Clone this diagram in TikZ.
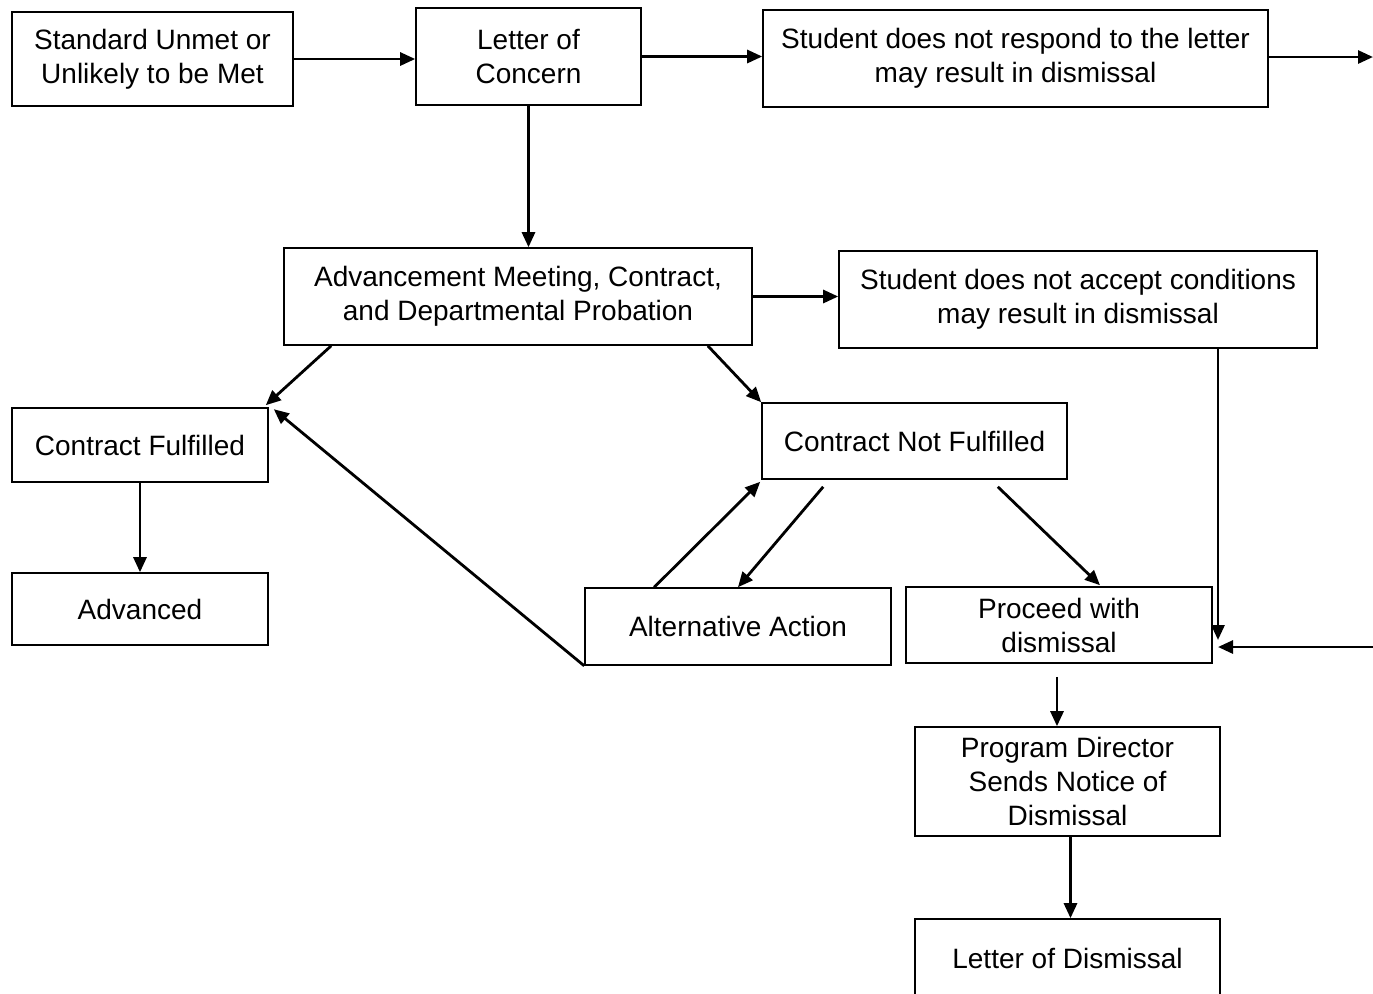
\documentclass[tikz,border=0pt]{standalone}
\usepackage{fontspec}
\setmainfont{Liberation Sans}
\usetikzlibrary{arrows.meta,calc}
\tikzset{
  box/.style={draw,line width=0.8pt,align=center,inner sep=2pt,font=\fontsize{14}{17}\selectfont},
  arr/.style={line width=1.4pt,-{Triangle[length=7.5pt,width=6.5pt]}}
}
\begin{document}
\begin{tikzpicture}[x=0.5pt,y=-0.5pt]
\clip (0,0) rectangle (1373,993);
\fill[white] (0,0) rectangle (1373,993);
% boxes
\node[box,minimum width=140.5pt,minimum height=47pt] (std) at (152.5,59) {Standard Unmet or\\Unlikely to be Met};
\node[box,minimum width=112.5pt,minimum height=48.5pt] (loc) at (528.5,56.5) {Letter of\\Concern};
\node[box,minimum width=252.5pt,minimum height=48.5pt] (resp) at (1015.5,58.5) {Student does not respond to the letter\\may result in dismissal};
\node[box,minimum width=234pt,minimum height=48.5pt] (adv) at (518,296.5) {Advancement Meeting, Contract,\\and Departmental Probation};
\node[box,minimum width=239pt,minimum height=48.5pt] (acc) at (1078,299.5) {Student does not accept conditions\\may result in dismissal};
\node[box,minimum width=128pt,minimum height=37pt] (cf) at (140,445) {Contract Fulfilled};
\node[box,minimum width=152.5pt,minimum height=38pt] (cnf) at (914.5,441) {Contract Not Fulfilled};
\node[box,minimum width=128pt,minimum height=36pt] (advd) at (140,609) {Advanced};
\node[box,minimum width=153pt,minimum height=38.5pt] (alt) at (738,626.5) {Alternative Action};
\node[box,minimum width=153pt,minimum height=38pt] (proc) at (1059,625) {Proceed with\\dismissal};
\node[box,minimum width=152.5pt,minimum height=54.5pt] (pd) at (1067.5,781.5) {Program Director\\Sends Notice of\\Dismissal};
\node[box,minimum width=152.5pt,minimum height=39pt] (lod) at (1067.5,958) {Letter of Dismissal};
% loose ends and joints
\coordinate (redge1) at (1373,57);
\coordinate (redge2) at (1373,647);
\coordinate (join) at (1218,640);
\coordinate (pout) at ($(proc.south)+(-2,13)$);
\coordinate (pdout) at ($(pd.south)+(3,0)$);
% connectors
\draw[arr] (std.east) -- (std.east -| loc.west);
\draw[arr] (loc.east) -- (loc.east -| resp.west);
\draw[arr] (resp.east |- redge1) -- (redge1);
\draw[arr] (loc.south) -- (loc.south |- adv.north);
\draw[arr] (adv.east) -- (adv.east -| acc.west);
\draw[arr] (acc.south -| join) -- (join);
\draw[arr] (redge2) -- (redge2 -| join);
\draw[arr] ($(adv.south west)+(48,0)$) -- ($(cf.north east)+(-3,-2)$);
\draw[arr] ($(adv.south east)+(-45,0)$) -- (cnf.north west);
\draw[arr] (alt.south west) -- ($(cf.north east)+(5,2)$);
\draw[arr] ($(alt.north west)+(70,0)$) -- ($(cnf.south west)+(-1,2)$);
\draw[arr] ($(cnf.south west)+(62,7)$) -- (alt.north);
\draw[arr] ($(cnf.south east)+(-70,7)$) -- ($(proc.north)+(41,-1)$);
\draw[arr] (cf.south) -- (advd.north);
\draw[arr] (pout) -- (pout |- pd.north);
\draw[arr] (pdout) -- (pdout |- lod.north);
\end{tikzpicture}
\end{document}
